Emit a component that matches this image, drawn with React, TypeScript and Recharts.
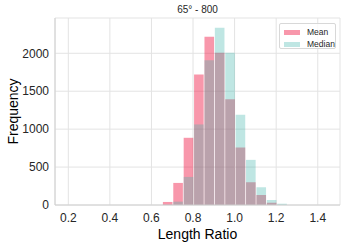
import { Bar, CartesianGrid, ComposedChart, Label, XAxis, YAxis } from "recharts";

// bin centres of the histogram (Length Ratio)
const binCenters = [0.68, 0.73, 0.78, 0.83, 0.88, 0.93, 0.98, 1.03, 1.08, 1.13, 1.18, 1.23];
const meanCounts = [40, 291, 886, 1720, 2219, 2007, 1393, 758, 300, 132, 30, 0];
const medianCounts = [4, 44, 370, 1062, 1909, 2338, 2007, 1191, 595, 234, 66, 17];

const xTicks = [0.2, 0.4, 0.6, 0.8, 1.0, 1.2, 1.4];
const yTicks = [0, 500, 1000, 1500, 2000];

const title = "65° - 800";
const seriesNames = ["Mean", "Median"];

const data = binCenters.map((x, i) => ({ x, mean: meanCounts[i], median: medianCounts[i] }));

const font = "'Liberation Sans', Arial, sans-serif";
const gridColor = "#e3e3e3";
const frameColor = "#d0d0d0";
const textColor = "#262626";

const meanFill = "#ef1844";
const meanOpacity = 0.45;
const medianFill = "#48b8af";
const medianOpacity = 0.35;
const legendSwatch = ["#f897ab", "#bfe6e3"];

const barWidth = 9.6;

export default function App() {
  return (
    <div
      style={{
        position: "absolute",
        left: 0,
        top: 0,
        width: 349,
        height: 245,
        background: "#fff",
        fontFamily: font,
      }}
    >
      <div
        style={{
          position: "absolute",
          left: 55,
          width: 285,
          top: 4,
          textAlign: "center",
          fontSize: 10,
          lineHeight: "12px",
          color: textColor,
        }}
      >
        {title}
      </div>

      <ComposedChart
        width={349}
        height={245}
        data={data}
        margin={{ top: 18, right: 9, bottom: 0, left: 0 }}
        barGap={-barWidth}
      >
        <CartesianGrid stroke={gridColor} strokeWidth={1} />
        <XAxis
          dataKey="x"
          type="number"
          domain={[0.136, 1.507]}
          allowDataOverflow
          ticks={xTicks}
          tickFormatter={(v: number) => v.toFixed(1)}
          tick={{ fontSize: 12, fill: textColor, fontFamily: font }}
          tickLine={false}
          tickSize={0}
          tickMargin={8}
          axisLine={{ stroke: frameColor }}
          height={40}
        >
          <Label
            value="Length Ratio"
            position="insideBottom"
            offset={6}
            style={{ fontSize: 14, fill: "#000", fontFamily: font }}
          />
        </XAxis>
        <XAxis
          xAxisId="top"
          orientation="top"
          type="number"
          domain={[0, 1]}
          tick={false}
          tickLine={false}
          axisLine={{ stroke: frameColor }}
          height={0}
        />
        <YAxis
          type="number"
          domain={[0, 2465]}
          allowDataOverflow
          ticks={yTicks}
          tick={{ fontSize: 12, fill: textColor, fontFamily: font }}
          tickLine={false}
          tickSize={0}
          tickMargin={6}
          axisLine={{ stroke: frameColor }}
          width={55}
        >
          <Label
            value="Frequency"
            angle={-90}
            position="insideLeft"
            offset={13}
            style={{ fontSize: 14, fill: "#000", fontFamily: font, textAnchor: "middle" }}
          />
        </YAxis>
        <YAxis
          yAxisId="right"
          orientation="right"
          type="number"
          domain={[0, 1]}
          tick={false}
          tickLine={false}
          axisLine={{ stroke: frameColor }}
          width={0}
        />
        <Bar
          dataKey="mean"
          name={seriesNames[0]}
          fill={meanFill}
          fillOpacity={meanOpacity}
          barSize={barWidth}
          isAnimationActive={false}
        />
        <Bar
          dataKey="median"
          name={seriesNames[1]}
          fill={medianFill}
          fillOpacity={medianOpacity}
          barSize={barWidth}
          isAnimationActive={false}
        />
      </ComposedChart>

      <div
        style={{
          position: "absolute",
          left: 279,
          top: 23,
          width: 57,
          height: 26,
          border: "1px solid #d8d8d8",
          borderRadius: 2,
          background: "rgba(255,255,255,0.8)",
          boxSizing: "border-box",
          fontSize: 8.5,
          color: textColor,
        }}
      >
        {seriesNames.map((name, i) => (
          <div
            key={name}
            style={{
              position: "absolute",
              left: 4,
              top: 3 + i * 12,
              height: 10,
              display: "flex",
              alignItems: "center",
              whiteSpace: "nowrap",
            }}
          >
            <span
              style={{
                display: "inline-block",
                width: 16,
                height: 5,
                background: legendSwatch[i],
                marginRight: 7,
              }}
            />
            <span>{name}</span>
          </div>
        ))}
      </div>
    </div>
  );
}
